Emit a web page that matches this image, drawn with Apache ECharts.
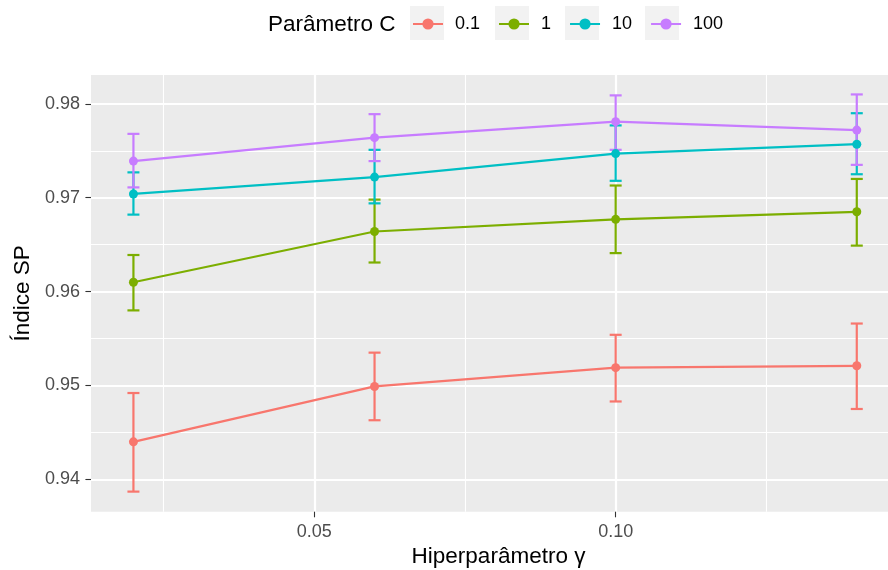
<!DOCTYPE html>
<html>
<head>
<meta charset="utf-8">
<script src="https://cdn.jsdelivr.net/npm/echarts@6/dist/echarts.min.js"></script>
<style>html,body{margin:0;padding:0;background:#fff}#c{width:888px;height:570px}</style>
</head>
<body>
<div id="c"></div>
<script>
// ---- data ----
const gamma = [0.02, 0.06, 0.10, 0.14];
const seriesNames = ['0.1', '1', '10', '100'];
const c01Mean = [0.9440, 0.9499, 0.9519, 0.9521];
const c01Low  = [0.9387, 0.9463, 0.9483, 0.9475];
const c01High = [0.9492, 0.9535, 0.9554, 0.9566];
const c1Mean  = [0.9610, 0.9664, 0.9677, 0.9685];
const c1Low   = [0.9580, 0.9631, 0.9641, 0.9649];
const c1High  = [0.9639, 0.9698, 0.9713, 0.9720];
const c10Mean = [0.9704, 0.9722, 0.9747, 0.9757];
const c10Low  = [0.9682, 0.9694, 0.9718, 0.9725];
const c10High = [0.9727, 0.9751, 0.9777, 0.9790];
const c100Mean = [0.9739, 0.9764, 0.9781, 0.9772];
const c100Low  = [0.9711, 0.9739, 0.9751, 0.9735];
const c100High = [0.9768, 0.9789, 0.9809, 0.9810];
const yTicks = [0.94, 0.95, 0.96, 0.97, 0.98];
const yMinor = [0.945, 0.955, 0.965, 0.975];
const xTicks = [0.05, 0.10];
const xMinor = [0.025, 0.075, 0.125];
const legendTitle = 'Parâmetro C';
const xTitle = 'Hiperparâmetro γ';
const yTitle = 'Índice SP';

// ---- styling ----
const colors = ['#F8766D', '#7CAE00', '#00BFC4', '#C77CFF'];
const means = [c01Mean, c1Mean, c10Mean, c100Mean];
const lows = [c01Low, c1Low, c10Low, c100Low];
const highs = [c01High, c1High, c10High, c100High];
const FONT = '"Liberation Sans", Arial, Helvetica, sans-serif';
const X_MIN = 0.01296, X_MAX = 0.14518;
const Y_MIN = 0.93656, Y_MAX = 0.98307;

function errRender(color) {
  return function (params, api) {
    const x = api.value(0), lo = api.value(1), hi = api.value(2);
    const pLo = api.coord([x, lo]);
    const pHi = api.coord([x, hi]);
    const hw = 6;
    const st = { stroke: color, lineWidth: 2.2, fill: null };
    return {
      type: 'group',
      children: [
        { type: 'line', shape: { x1: pLo[0], y1: pLo[1], x2: pHi[0], y2: pHi[1] }, style: st },
        { type: 'line', shape: { x1: pLo[0] - hw, y1: pLo[1], x2: pLo[0] + hw, y2: pLo[1] }, style: st },
        { type: 'line', shape: { x1: pHi[0] - hw, y1: pHi[1], x2: pHi[0] + hw, y2: pHi[1] }, style: st }
      ]
    };
  };
}

const series = [];
seriesNames.forEach(function (n, i) {
  series.push({
    name: n + ' err',
    type: 'custom',
    renderItem: errRender(colors[i]),
    encode: { x: 0, y: [1, 2] },
    data: gamma.map(function (g, j) { return [g, lows[i][j], highs[i][j]]; }),
    z: 2, silent: true
  });
});
seriesNames.forEach(function (n, i) {
  series.push({
    name: n,
    type: 'line',
    data: gamma.map(function (g, j) { return [g, means[i][j]]; }),
    symbol: 'circle', symbolSize: 9,
    lineStyle: { color: colors[i], width: 2.2 },
    itemStyle: { color: colors[i] },
    z: 3, silent: true
  });
});

const chart = echarts.init(document.getElementById('c'), null, { renderer: 'canvas' });
chart.setOption({
  animation: false,
  textStyle: { fontFamily: FONT },
  title: {
    text: legendTitle, left: 263, top: 8,
    textStyle: { fontFamily: FONT, fontSize: 22.5, fontWeight: 'normal', color: '#000' }
  },
  legend: {
    data: seriesNames, left: 407, top: 10, z: 10,
    itemWidth: 30, itemHeight: 14, itemGap: 18,
    textStyle: { fontFamily: FONT, fontSize: 18, color: '#000', padding: [0, 0, 0, 7] }
  },
  graphic: [410, 495, 565, 645].map(function (x) {
    return { type: 'rect', left: x, top: 6, z: 0, shape: { width: 34, height: 34 }, style: { fill: '#F2F2F2' } };
  }),
  grid: {
    left: 91, right: 0, top: 75, bottom: 58.3, show: true, backgroundColor: '#EBEBEB', borderWidth: 0,
    containLabel: false, outerBoundsMode: 'none'
  },
  xAxis: [{
    type: 'value', min: X_MIN, max: X_MAX,
    name: xTitle, nameLocation: 'middle', nameGap: 29,
    nameTextStyle: { fontFamily: FONT, fontSize: 22.5, color: '#000', padding: [0, 0, 0, 18] },
    axisLine: { show: false },
    axisTick: { show: true, customValues: xTicks, length: 5.6, lineStyle: { color: '#333', width: 1.1 } },
    axisLabel: { customValues: xTicks, color: '#4D4D4D', fontSize: 18, margin: 11, formatter: function (v) { return v.toFixed(2); } },
    splitLine: { show: true, lineStyle: { color: '#fff', width: 2.2 } }
  }, {
    type: 'value', min: X_MIN, max: X_MAX, position: 'bottom',
    axisLine: { show: false }, axisLabel: { show: false },
    axisTick: { show: false, customValues: xMinor },
    splitLine: { show: true, lineStyle: { color: '#fff', width: 1.1 } }
  }],
  yAxis: [{
    type: 'value', min: Y_MIN, max: Y_MAX,
    name: yTitle, nameLocation: 'middle', nameGap: 57, nameRotate: 90,
    nameTextStyle: { fontFamily: FONT, fontSize: 22.5, color: '#000' },
    axisLine: { show: false },
    axisTick: { show: true, customValues: yTicks, length: 5.6, lineStyle: { color: '#333', width: 1.1 } },
    axisLabel: { customValues: yTicks, color: '#4D4D4D', fontSize: 18, margin: 11, formatter: function (v) { return v.toFixed(2); } },
    splitLine: { show: true, lineStyle: { color: '#fff', width: 2.2 } }
  }, {
    type: 'value', min: Y_MIN, max: Y_MAX, position: 'left',
    axisLine: { show: false }, axisLabel: { show: false },
    axisTick: { show: false, customValues: yMinor },
    splitLine: { show: true, lineStyle: { color: '#fff', width: 1.1 } }
  }],
  series: series
});
</script>
</body>
</html>
